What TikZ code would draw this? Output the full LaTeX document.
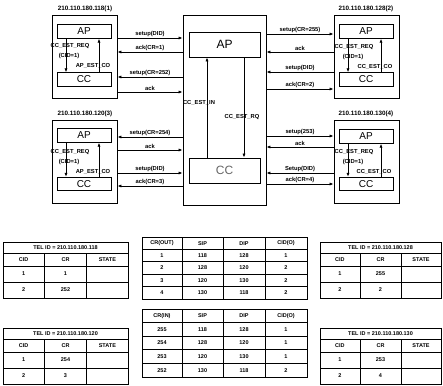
\documentclass[tikz,border=0pt]{standalone}
\usepackage{fontspec}
\setmainfont{Liberation Sans}
\usetikzlibrary{arrows.meta}
\newcommand{\labfont}{\fontsize{5.8}{6}\selectfont\bfseries}
\newcommand{\ipfont}{\fontsize{6.3}{7}\selectfont\bfseries}
\newcommand{\tabfont}{\fontsize{5.5}{6}\selectfont\bfseries}
\tikzset{
  outer/.style={draw, line width=0.9pt, minimum width=65pt, minimum height=83pt, inner sep=0pt},
  inbox/.style={draw, line width=0.9pt, minimum width=54pt, minimum height=13.5pt, inner sep=0pt, font=\fontsize{10}{10}\selectfont},
  cbox/.style={draw, line width=0.9pt, minimum width=83pt, minimum height=190pt, inner sep=0pt},
  cin/.style={draw, line width=0.9pt, minimum width=71pt, minimum height=25pt, inner sep=0pt, font=\fontsize{12}{12}\selectfont},
  arr/.style={line width=0.8pt, -{Latex[length=4pt,width=3.2pt]}},
  lab/.style={font=\labfont, inner sep=1pt},
  iplab/.style={font=\ipfont, inner sep=0pt},
  tabline/.style={line width=0.8pt},
  tt/.style={font=\tabfont, inner sep=0pt},
}
% rows: title 11, header 13, two data rows 16 each (total 56)
\newcommand{\teltab}[7]{%
  \pgfmathsetmacro{\tcola}{#2+0.33*(#3-#2)}%
  \pgfmathsetmacro{\tcolb}{#2+0.67*(#3-#2)}%
  \draw[tabline] (#2,#4) rectangle (#3,{#4+56});
  \foreach \k in {11,24,40} \draw[tabline] (#2,{#4+\k}) -- (#3,{#4+\k});
  \draw[tabline] (\tcola,{#4+11}) -- (\tcola,{#4+56});
  \draw[tabline] (\tcolb,{#4+11}) -- (\tcolb,{#4+56});
  \node[tt] (#1-title) at ({(#2+#3)/2},{#4+5.5}) {#5};
  \node[tt] (#1-h1) at ({(#2+\tcola)/2},{#4+17.5}) {CID};
  \node[tt] (#1-h2) at ({(\tcola+\tcolb)/2},{#4+17.5}) {CR};
  \node[tt] (#1-h3) at ({(\tcolb+#3)/2},{#4+17.5}) {STATE};
  \node[tt] (#1-a1) at ({(#2+\tcola)/2},{#4+32}) {1};
  \node[tt] (#1-a2) at ({(\tcola+\tcolb)/2},{#4+32}) {#6};
  \node[tt] (#1-b1) at ({(#2+\tcola)/2},{#4+48}) {2};
  \node[tt] (#1-b2) at ({(\tcola+\tcolb)/2},{#4+48}) {#7};
}
\begin{document}
\begin{tikzpicture}[x=1pt,y=-1pt]
\useasboundingbox (0,0) rectangle (443,385);

% ---------- terminal boxes ----------
\node[outer] (b1) at (84.5,56.5) {};
\node[inbox] (ap1) at (84,31.5) {AP};
\node[inbox] (cc1) at (84,79.5) {CC};
\node[iplab] (ip1) at (85,9) {210.110.180.118(1)};

\node[outer] (b2) at (366.5,56.5) {};
\node[inbox] (ap2) at (366,31.5) {AP};
\node[inbox] (cc2) at (366,79.5) {CC};
\node[iplab] (ip2) at (366,9) {210.110.180.128(2)};

\node[outer] (b3) at (84.5,161.5) {};
\node[inbox] (ap3) at (84,135.5) {AP};
\node[inbox] (cc3) at (84,184) {CC};
\node[iplab] (ip3) at (85,114) {210.110.180.120(3)};

\node[outer] (b4) at (366.5,161.5) {};
\node[inbox] (ap4) at (366,136.5) {AP};
\node[inbox] (cc4) at (366,184) {CC};
\node[iplab] (ip4) at (366,114) {210.110.180.130(4)};

% ---------- centre box ----------
\node[cbox] (c) at (224.5,110) {};
\node[cin] (apc) at (224.5,44.5) {AP};
\node[cin, text=black!60] (ccc) at (224.5,170.5) {CC};
\draw[arr] (ccc.north -| 207,0) -- (apc.south -| 207,0);
\draw[arr] (apc.south -| 244,0) -- (ccc.north -| 244,0);
\node[lab] (lin) at (199,103) {CC\_EST\_IN};
\node[lab] (lrq) at (242,117) {CC\_EST\_RQ};

% ---------- inner arrows of terminals ----------
\draw[arr] (ap1.south -| 66,0) -- (cc1.north -| 66,0);
\draw[arr] (cc1.north -| 99,0) -- (ap1.south -| 99,0);
\node[lab] (l1a) at (70,46) {CC\_EST\_REQ};
\node[lab] (l1b) at (69,56) {(CID=1)};
\node[lab] (l1c) at (93,66) {AP\_EST\_CO};

\draw[arr] (ap3.south -| 66,0) -- (cc3.north -| 66,0);
\draw[arr] (cc3.north -| 99,0) -- (ap3.south -| 99,0);
\node[lab] (l3a) at (70,152) {CC\_EST\_REQ};
\node[lab] (l3b) at (69,162) {(CID=1)};
\node[lab] (l3c) at (93,172) {AP\_EST\_CO};

\draw[arr] (ap2.south -| 348,0) -- (cc2.north -| 348,0);
\draw[arr] (cc2.north -| 381,0) -- (ap2.south -| 381,0);
\node[lab] (l2a) at (354,47) {CC\_EST\_REQ};
\node[lab] (l2b) at (353,57) {(CID=1)};
\node[lab] (l2c) at (375,67) {CC\_EST\_CO};

\draw[arr] (ap4.south -| 348,0) -- (cc4.north -| 348,0);
\draw[arr] (cc4.north -| 381,0) -- (ap4.south -| 381,0);
\node[lab] (l4a) at (354,152) {CC\_EST\_REQ};
\node[lab] (l4b) at (353,162) {(CID=1)};
\node[lab] (l4c) at (374,172) {CC\_EST\_CO};

% ---------- messages, terminal 1 ----------
\draw[arr] (b1.east |- 0,38) -- node[lab,above] (m11) {setup(DID)} (c.west |- 0,38);
\draw[arr] (c.west |- 0,52) -- node[lab,above] (m12) {ack(CR=1)} (b1.east |- 0,52);
\draw[arr] (c.west |- 0,77) -- node[lab,above] (m13) {setup(CR=252)} (b1.east |- 0,77);
\draw[arr] (b1.east |- 0,92) -- node[lab,above] (m14) {ack} (c.west |- 0,92);

% ---------- messages, terminal 3 ----------
\draw[arr] (c.west |- 0,137) -- node[lab,above] (m31) {setup(CR=254)} (b3.east |- 0,137);
\draw[arr] (b3.east |- 0,150) -- node[lab,above] (m32) {ack} (c.west |- 0,150);
\draw[arr] (b3.east |- 0,173) -- node[lab,above] (m33) {setup(DID)} (c.west |- 0,173);
\draw[arr] (c.west |- 0,186) -- node[lab,above] (m34) {ack(CR=3)} (b3.east |- 0,186);

% ---------- messages, terminal 2 ----------
\draw[arr] (c.east |- 0,34) -- node[lab,above] (m21) {setup(CR=255)} (b2.west |- 0,34);
\draw[arr] (b2.west |- 0,52) -- node[lab,above] (m22) {ack} (c.east |- 0,52);
\draw[arr] (b2.west |- 0,72) -- node[lab,above] (m23) {setup(DID)} (c.east |- 0,72);
\draw[arr] (c.east |- 0,89) -- node[lab,above] (m24) {ack(CR=2)} (b2.west |- 0,89);

% ---------- messages, terminal 4 ----------
\draw[arr] (c.east |- 0,136) -- node[lab,above] (m41) {setup(253)} (b4.west |- 0,136);
\draw[arr] (b4.west |- 0,147) -- node[lab,above] (m42) {ack} (c.east |- 0,147);
\draw[arr] (b4.west |- 0,173) -- node[lab,above] (m43) {Setup(DID)} (c.east |- 0,173);
\draw[arr] (c.east |- 0,184) -- node[lab,above] (m44) {ack(CR=4)} (b4.west |- 0,184);

% ---------- terminal tables ----------
\teltab{t1}{3}{128}{242}{TEL ID = 210.110.180.118}{1}{252}
\teltab{t3}{3}{128}{328}{TEL ID = 210.110.180.120}{254}{3}
\teltab{t2}{320}{441}{242}{TEL ID = 210.110.180.128}{255}{2}
\teltab{t4}{320}{441}{328}{TEL ID = 210.110.180.130}{253}{4}

% ---------- centre tables ----------
\draw[tabline] (142,237) rectangle (307,299);
\foreach \k in {1,2,3,4} \draw[tabline] (142,{237+12.4*\k}) -- (307,{237+12.4*\k});
\foreach \xx in {182,223,265} \draw[tabline] (\xx,237) -- (\xx,299);
\foreach \r/\a/\b/\cc/\d in {0/CR(OUT)/SIP/DIP/CID(O),1/1/118/128/1,2/2/128/120/2,3/3/120/130/2,4/4/130/118/2}{
  \node[tt] (mo-\r-1) at (162,{243.2+12.4*\r}) {\a};
  \node[tt] (mo-\r-2) at (202.5,{243.2+12.4*\r}) {\b};
  \node[tt] (mo-\r-3) at (244,{243.2+12.4*\r}) {\cc};
  \node[tt] (mo-\r-4) at (286,{243.2+12.4*\r}) {\d};
}
\draw[tabline] (142,309) rectangle (307,377);
\foreach \k in {1,2,3,4} \draw[tabline] (142,{309+13.6*\k}) -- (307,{309+13.6*\k});
\foreach \xx in {182,223,265} \draw[tabline] (\xx,309) -- (\xx,377);
\foreach \r/\a/\b/\cc/\d in {0/CR(IN)/SIP/DIP/CID(O),1/255/118/128/1,2/254/128/120/1,3/253/120/130/1,4/252/130/118/2}{
  \node[tt] (mi-\r-1) at (162,{315.8+13.6*\r}) {\a};
  \node[tt] (mi-\r-2) at (202.5,{315.8+13.6*\r}) {\b};
  \node[tt] (mi-\r-3) at (244,{315.8+13.6*\r}) {\cc};
  \node[tt] (mi-\r-4) at (286,{315.8+13.6*\r}) {\d};
}
\end{tikzpicture}
\end{document}
